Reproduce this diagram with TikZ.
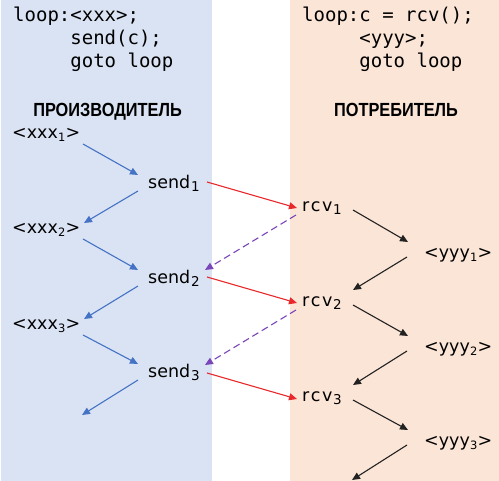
\documentclass[tikz,border=0pt]{standalone}
\usepackage{fontspec}
\setmainfont{DejaVu Sans}
\newfontfamily\codefont{DejaVu Sans Mono}
\newfontfamily\hdrfont[FakeStretch=0.86]{Liberation Sans}
\usetikzlibrary{arrows.meta}
\definecolor{pblue}{HTML}{DAE3F3}
\definecolor{ppeach}{HTML}{FBE5D6}
\definecolor{ablue}{HTML}{4472C4}
\definecolor{ared}{HTML}{E8282A}
\definecolor{apurple}{HTML}{7A45B8}
\definecolor{ablack}{HTML}{222222}
\newcommand{\bigsub}[1]{\kern0.8pt\raisebox{-3pt}{\fontsize{13.5}{14}\selectfont #1}}
\newcommand{\smallsub}[1]{\kern0.3pt\raisebox{-2.5pt}{\fontsize{11.5}{12}\selectfont #1}}
\begin{document}
\begin{tikzpicture}[x=1pt,y=-1pt,
  lbltxt/.style={inner sep=0pt, anchor=base west, text=black, font=\fontsize{17.5}{20}\selectfont},
  codetxt/.style={inner sep=0pt, anchor=base west, text=black, font=\codefont\fontsize{19}{22}\selectfont},
  hdrtxt/.style={inner sep=0pt, anchor=base, text=black, font=\hdrfont\bfseries\fontsize{19}{20}\selectfont},
  bluearr/.style={ablue, line width=1.1pt, -{Triangle[length=8pt,width=7pt]}},
  redarr/.style={ared, line width=1.1pt, -{Triangle[length=8pt,width=7pt]}},
  purparr/.style={apurple, line width=1.1pt, dash pattern=on 7pt off 4pt, -{Triangle[length=8pt,width=7pt]}},
  blkarr/.style={ablack, line width=1.1pt, -{Triangle[length=8pt,width=7pt]}}]
\useasboundingbox (0,0) rectangle (499,481);
\fill[white] (0,0) rectangle (499,481);
\fill[pblue] (1,0) rectangle (212,481);
\fill[ppeach] (290,0) rectangle (499,481);

% code
\node[codetxt] (cl1) at (13,21.5) {loop:<xxx>;};
\node[codetxt] (cl2) at (13,45) {\phantom{loop:}send(c);};
\node[codetxt] (cl3) at (13,68) {\phantom{loop:}goto loop};
\node[codetxt] (cr1) at (302,21.5) {loop:c = rcv();};
\node[codetxt] (cr2) at (302,45) {\phantom{loop:}<yyy>;};
\node[codetxt] (cr3) at (302,68) {\phantom{loop:}goto loop};

% headers
\node[hdrtxt] (hl) at (107.5,117) {ПРОИЗВОДИТЕЛЬ};
\node[hdrtxt] (hr) at (396,117) {ПОТРЕБИТЕЛЬ};

% producer
\node[lbltxt] (x1) at (12,139) {<xxx\smallsub{1}>};
\node[lbltxt] (x2) at (12,234) {<xxx\smallsub{2}>};
\node[lbltxt] (x3) at (12,330) {<xxx\smallsub{3}>};
\node[lbltxt] (s1) at (148,189) {send\bigsub{1}};
\node[lbltxt] (s2) at (148,284) {send\bigsub{2}};
\node[lbltxt] (s3) at (148,378) {send\bigsub{3}};

% consumer
\node[lbltxt] (r1) at (302,212) {r\kern1.5pt c\kern1.5pt v\bigsub{1}};
\node[lbltxt] (r2) at (302,307) {r\kern1.5pt c\kern1.5pt v\bigsub{2}};
\node[lbltxt] (r3) at (302,402) {r\kern1.5pt c\kern1.5pt v\bigsub{3}};
\node[lbltxt] (y1) at (424,259) {<yyy\smallsub{1}>};
\node[lbltxt] (y2) at (424,353) {<yyy\smallsub{2}>};
\node[lbltxt] (y3) at (424,447) {<yyy\smallsub{3}>};

\coordinate (xend) at (82,415);
\coordinate (rend) at (352,480);

% blue arrows
\draw[bluearr] ([shift={(71,5)}]x1.base west) -- ([shift={(-10,-14)}]s1.base west);
\draw[bluearr] ([shift={(-10,2)}]s1.base west) -- ([shift={(72,-11)}]x2.base west);
\draw[bluearr] ([shift={(71,5)}]x2.base west) -- ([shift={(-10,-14)}]s2.base west);
\draw[bluearr] ([shift={(-10,2)}]s2.base west) -- ([shift={(72,-11)}]x3.base west);
\draw[bluearr] ([shift={(71,5)}]x3.base west) -- ([shift={(-10,-14)}]s3.base west);
\draw[bluearr] ([shift={(-10,2)}]s3.base west) -- (xend);

% red arrows
\draw[redarr] ([shift={(59,-7)}]s1.base west) -- ([shift={(-5,-4)}]r1.base west);
\draw[redarr] ([shift={(59,-7)}]s2.base west) -- ([shift={(-5,-4)}]r2.base west);
\draw[redarr] ([shift={(59,-5)}]s3.base west) -- ([shift={(-5,-3)}]r3.base west);

% purple dashed arrows
\draw[purparr] ([shift={(-6,3)}]r1.base west) -- ([shift={(57,-14)}]s2.base west);
\draw[purparr] ([shift={(-6,3)}]r2.base west) -- ([shift={(57,-13)}]s3.base west);

% black arrows
\draw[blkarr] ([shift={(51,-2)}]r1.base west) -- ([shift={(-16,-17)}]y1.base west);
\draw[blkarr] ([shift={(-17,-2)}]y1.base west) -- ([shift={(51,-17)}]r2.base west);
\draw[blkarr] ([shift={(51,-2)}]r2.base west) -- ([shift={(-16,-17)}]y2.base west);
\draw[blkarr] ([shift={(-17,-2)}]y2.base west) -- ([shift={(51,-17)}]r3.base west);
\draw[blkarr] ([shift={(51,-2)}]r3.base west) -- ([shift={(-16,-17)}]y3.base west);
\draw[blkarr] ([shift={(-17,-2)}]y3.base west) -- (rend);
\end{tikzpicture}
\end{document}
